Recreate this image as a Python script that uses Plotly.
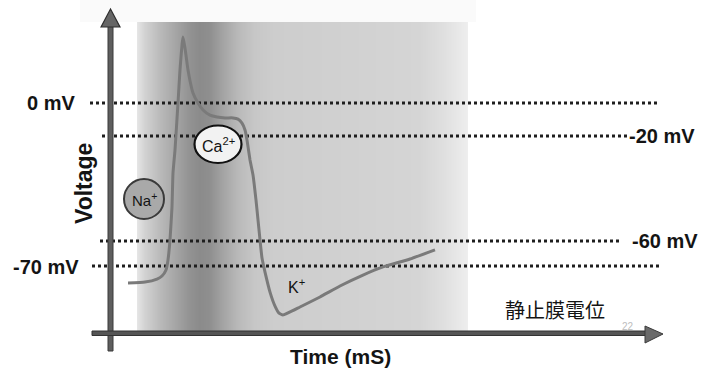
import numpy as np
import plotly.graph_objects as go

# ---------------- data ----------------
time_ms = [17, 34, 46, 51, 55, 57, 59, 61, 62, 64, 67, 69, 71, 72, 74, 77, 82, 87, 92, 99,
           106, 114, 122, 127, 131, 134, 136, 139, 142, 145, 147, 149, 151, 154, 159, 164,
           168, 172, 189, 209, 229, 252, 272, 299, 324]
voltage_mv = [-77.3, -76.9, -75.6, -74.3, -71.7, -67.4, -58.8, -44.7, -30.1, -20.2, 0.0, 14.2,
              24.9, 28.3, 23.6, 14.2, 4.3, 0.0, -3.0, -5.2, -6.0, -6.4, -6.4, -6.9, -8.6, -11.6,
              -15.9, -24.5, -30.9, -41.7, -50.2, -58.8, -66.6, -72.6, -81.2, -87.2, -90.2, -91.0,
              -87.6, -83.3, -78.6, -73.9, -70.4, -67.0, -63.1]

ref_levels = [0.0, -14.2, -59.3, -70.0]          # positions of the dotted guide lines
ref_labels = ["0 mV", "-20 mV", "-60 mV", "-70 mV"]

ion_labels = ["Na<sup>+</sup>", "Ca<sup>2+</sup>", "K<sup>+</sup>"]
axis_titles = ["Voltage", "Time (mS)"]
rest_label = "静止膜電位"
page_no = "22"

# ---------------- layout helpers ----------------
W, H = 715, 368
X_RANGE = [-111, 604]
Y_RANGE = [(103 - 368) / 2.3286, 103 / 2.3286]


def P(px):
    return px / W


def Q(py):
    return 1 - py / H


FONT = "Arial, Liberation Sans, sans-serif"
fig = go.Figure()

# background gradient panel
edges_px = np.arange(137, 469, 1)
stops_px = [137, 145, 160, 175, 190, 200, 210, 222, 238, 255, 275, 350, 420, 445, 468]
stops_g = [230, 210, 186, 166, 146, 139, 143, 162, 185, 199, 205, 209, 213, 224, 238]
centers = (edges_px[:-1] + edges_px[1:]) / 2
gray = np.interp(centers, stops_px, stops_g)
fig.add_trace(go.Heatmap(
    x=edges_px - 111, y=[(103 - 331) / 2.3286, (103 - 22) / 2.3286],
    z=[gray.tolist()], zmin=0, zmax=255, zsmooth=False,
    colorscale=[[0, "rgb(0,0,0)"], [1, "rgb(255,255,255)"]],
    showscale=False, hoverinfo="skip"))

# dotted guide lines
line_extent = {0: (-21, 549), 1: (-9, 517), 2: (-11, 509), 3: (-19, 549)}
for i, lvl in enumerate(ref_levels):
    x0, x1 = line_extent[i]
    fig.add_trace(go.Scatter(x=[x0, x1], y=[lvl, lvl], mode="lines",
                             line=dict(color="#1e1e1e", width=3, dash="dot"),
                             hoverinfo="skip", showlegend=False))

# action potential curve
fig.add_trace(go.Scatter(x=time_ms, y=voltage_mv, mode="lines",
                         line=dict(color="#7a7a7a", width=3, shape="spline", smoothing=0.4),
                         hoverinfo="skip", showlegend=False))

shapes = []
# faint speckle band on top
shapes.append(dict(type="rect", xref="paper", yref="paper", x0=P(80), x1=P(476), y0=Q(22), y1=Q(0),
                   fillcolor="#fafafa", line=dict(width=0), layer="below"))
# y axis arrow
shapes.append(dict(type="rect", xref="paper", yref="paper", x0=P(108), x1=P(113), y0=Q(351), y1=Q(26),
                   fillcolor="#5e5e5e", line=dict(color="#3a3a3a", width=1)))
shapes.append(dict(type="path", xref="paper", yref="paper",
                   path=f"M {P(101)} {Q(27)} L {P(110.5)} {Q(9)} L {P(120)} {Q(27)} Z",
                   fillcolor="#666666", line=dict(color="#2e2e2e", width=1.2)))
# x axis arrow
shapes.append(dict(type="rect", xref="paper", yref="paper", x0=P(92), x1=P(648), y0=Q(335.5), y1=Q(331),
                   fillcolor="#555555", line=dict(color="#333333", width=1)))
shapes.append(dict(type="path", xref="paper", yref="paper",
                   path=f"M {P(645)} {Q(326)} L {P(663)} {Q(334)} L {P(645)} {Q(343)} Z",
                   fillcolor="#6a6a6a", line=dict(color="#3a3a3a", width=1)))
# ion circles
shapes.append(dict(type="circle", xref="paper", yref="paper", x0=P(124), x1=P(164), y0=Q(219), y1=Q(179),
                   fillcolor="#a9a9a9", line=dict(color="#3a3a3a", width=2)))
shapes.append(dict(type="circle", xref="paper", yref="paper", x0=P(194.5), x1=P(241.5), y0=Q(163), y1=Q(125.5),
                   fillcolor="#f2f2f2", line=dict(color="#111111", width=2.2)))

ann = []


def label(text, px, py, size=20, bold=True, xanchor="center", color="#141414", angle=0, family=FONT):
    ann.append(dict(text=f"<b>{text}</b>" if bold else text, xref="paper", yref="paper",
                    x=P(px), y=Q(py), xanchor=xanchor, yanchor="middle", showarrow=False,
                    textangle=angle, font=dict(family=family, size=size, color=color)))


label(ref_labels[0], 77, 103, xanchor="right")
label(ref_labels[1], 627, 136, xanchor="left")
label(ref_labels[2], 630, 241, xanchor="left")
label(ref_labels[3], 81, 267, xanchor="right")
label(axis_titles[0], 84, 184, size=23, angle=-90)
label(axis_titles[1], 340, 356, size=21)
label(rest_label, 555, 309, size=20, bold=False, family="Noto Sans CJK JP")
label(page_no, 628, 326, size=10, bold=False, color="#bdbdbd")
label(ion_labels[0], 144, 199, size=15, bold=False)
label(ion_labels[1], 218, 145, size=16, bold=False)
label(ion_labels[2], 296, 286, size=16, bold=False)

fig.update_layout(
    width=W, height=H, margin=dict(l=0, r=0, t=0, b=0),
    paper_bgcolor="white", plot_bgcolor="white",
    xaxis=dict(range=X_RANGE, visible=False, fixedrange=True),
    yaxis=dict(range=Y_RANGE, visible=False, fixedrange=True),
    shapes=shapes, annotations=ann, showlegend=False)

fig.write_html("out.html", config={"displayModeBar": False},
               post_script="document.body.style.margin='0';document.body.style.overflow='hidden';")
